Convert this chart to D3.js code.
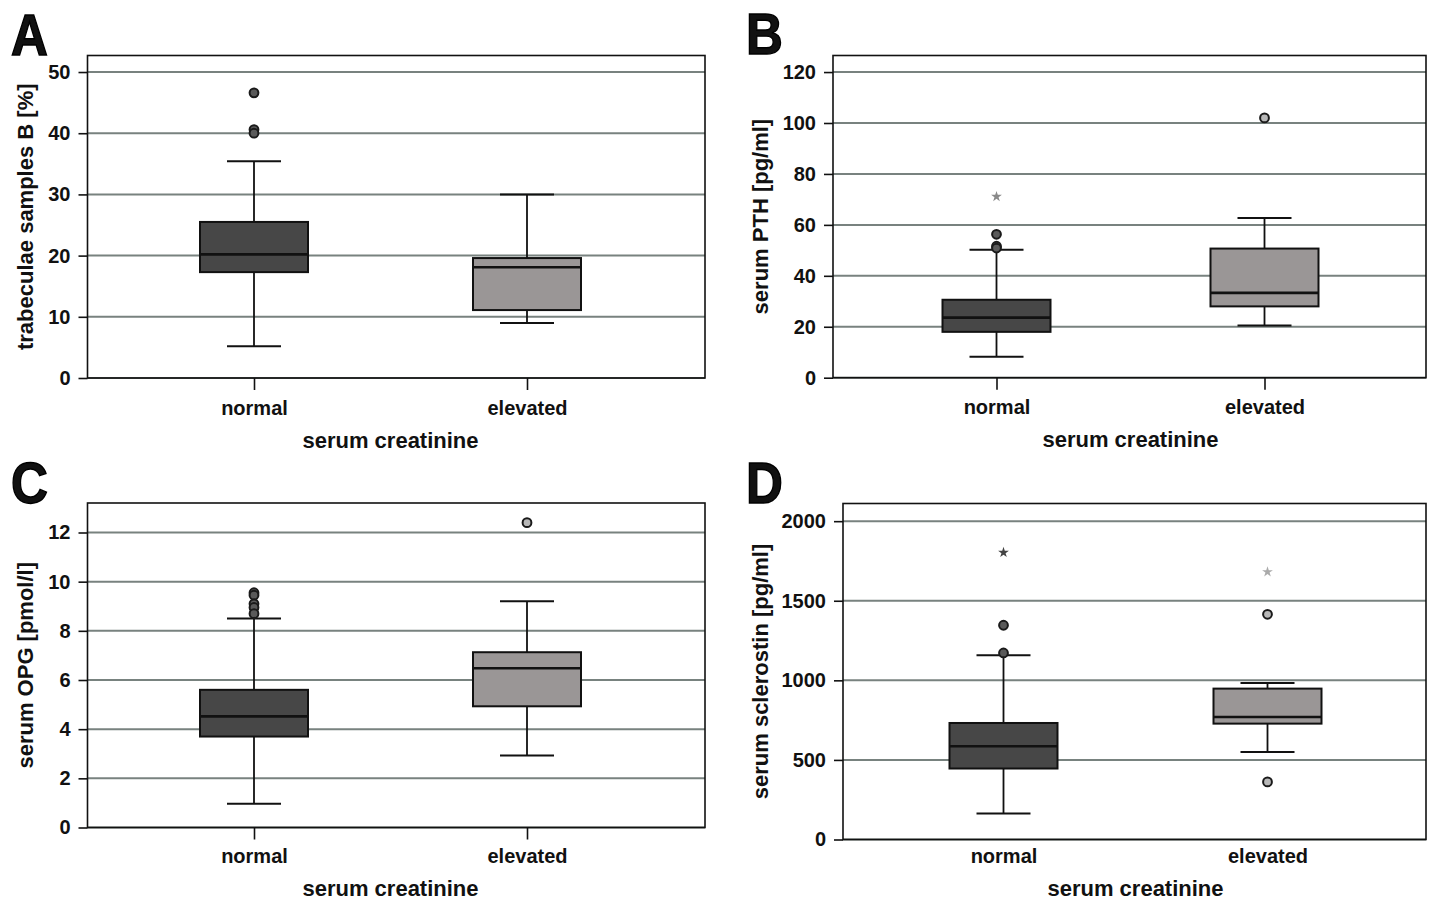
<!DOCTYPE html>
<html><head><meta charset="utf-8">
<script src="https://cdn.jsdelivr.net/npm/d3@7"></script>
<style>
body{margin:0;background:#fff}
svg{display:block}
text{font-family:"Liberation Sans",Arial,Helvetica,sans-serif;font-weight:bold;fill:#111}
</style>
</head><body>
<svg id="chart" width="1432" height="901"></svg>
<script>
const categories = ["normal", "elevated"];
const xTitle = "serum creatinine";

// Box statistics per category: [lower whisker, Q1, median, Q3, upper whisker]
const boxA = [[5.2, 17.3, 20.2, 25.5, 35.4], [9.0, 11.1, 18.1, 19.6, 30.0]];
const outliersA = [[46.6, 40.6, 40.0], []];
const extremesA = [[], []];
const ticksA = [0, 10, 20, 30, 40, 50];

const boxB = [[8.2, 18.0, 23.6, 30.6, 50.2], [20.5, 28.0, 33.3, 50.7, 62.7]];
const outliersB = [[56.3, 51.6, 50.9], [102]];
const extremesB = [[71.1], []];
const ticksB = [0, 20, 40, 60, 80, 100, 120];

const boxC = [[0.97, 3.7, 4.52, 5.6, 8.5], [2.93, 4.93, 6.48, 7.13, 9.2]];
const outliersC = [[9.55, 9.45, 9.1, 8.95, 8.7], [12.4]];
const extremesC = [[], []];
const ticksC = [0, 2, 4, 6, 8, 10, 12];

const boxD = [[163, 446, 586, 732, 1158], [550, 728, 770, 948, 984]];
const outliersD = [[1346, 1172], [1415, 362]];
const extremesD = [[1803], [1681]];
const ticksD = [0, 500, 1000, 1500, 2000];

const panels = [
  {letter: "A", yTitle: "trabeculae samples B [%]", box: boxA, out: outliersA, ext: extremesA, ticks: ticksA, yMax: 52.7,
   l: 87.5, r: 705, t: 55.5, b: 378, xN: 254, xE: 527, letterX: 11, letterY: 55, yTitleX: 33,
   xTick: 12, xPad: 10.5, xTitleY: 448, starCol: ["#777", "#aaa"]},
  {letter: "B", yTitle: "serum PTH [pg/ml]", box: boxB, out: outliersB, ext: extremesB, ticks: ticksB, yMax: 126.5,
   l: 833, r: 1426, t: 55.5, b: 377.7, xN: 996.5, xE: 1264.5, letterX: 746, letterY: 54, yTitleX: 768,
   xTick: 12, xPad: 10.5, xTitleY: 447, starCol: ["#8a8a8a", "#aaa"]},
  {letter: "C", yTitle: "serum OPG [pmol/l]", box: boxC, out: outliersC, ext: extremesC, ticks: ticksC, yMax: 13.2,
   l: 87.5, r: 705, t: 503, b: 827.5, xN: 254, xE: 527, letterX: 11, letterY: 503, yTitleX: 33,
   xTick: 12, xPad: 9.5, xTitleY: 896, starCol: ["#777", "#aaa"]},
  {letter: "D", yTitle: "serum sclerostin [pg/ml]", box: boxD, out: outliersD, ext: extremesD, ticks: ticksD, yMax: 2111,
   l: 843, r: 1426, t: 503.5, b: 839.5, xN: 1003.5, xE: 1267.5, letterX: 746, letterY: 503, yTitleX: 768,
   xTick: 0, xPad: 9.5, xTitleY: 896, starCol: ["#444", "#aaa"]}
];

const boxFill = ["#474747", "#9a9696"];
const circFill = ["#5a5a5a", "#b8b8b8"];
const svg = d3.select("#chart");

function drawPanel(p) {
  const g = svg.append("g");
  const y = d3.scaleLinear().domain([0, p.yMax]).range([p.b, p.t]);
  const x = d3.scalePoint().domain(categories).range([p.xN, p.xE]);
  const bw = 54, cw = 27;

  // gridlines
  g.append("g").selectAll("line").data(p.ticks).join("line")
    .attr("x1", p.l).attr("x2", p.r)
    .attr("y1", d => y(d)).attr("y2", d => y(d))
    .attr("stroke", "#78827f").attr("stroke-width", 2);

  // y axis
  const ya = g.append("g").attr("transform", `translate(${p.l},0)`)
    .call(d3.axisLeft(y).tickValues(p.ticks).tickSize(9).tickPadding(8).tickFormat(d3.format("d")));
  ya.select(".domain").remove();
  ya.selectAll("line").attr("stroke", "#111").attr("stroke-width", 1.6);
  ya.selectAll("text").attr("font-size", 20).attr("font-family", null).attr("fill", "#111");

  // x axis
  const xa = g.append("g").attr("transform", `translate(0,${p.b})`)
    .call(d3.axisBottom(x).tickSize(p.xTick).tickPadding(p.xPad));
  xa.select(".domain").remove();
  xa.selectAll("line").attr("stroke", "#111").attr("stroke-width", 1.6);
  xa.selectAll("text").attr("font-size", 20).attr("font-family", null).attr("fill", "#111");

  // boxes
  const data = categories.map((c, i) => ({c, i, s: p.box[i]}));
  const bg = g.append("g").selectAll("g").data(data).join("g");
  bg.append("line").attr("x1", d => x(d.c)).attr("x2", d => x(d.c))
    .attr("y1", d => y(d.s[0])).attr("y2", d => y(d.s[1]))
    .attr("stroke", "#111").attr("stroke-width", 1.8);
  bg.append("line").attr("x1", d => x(d.c)).attr("x2", d => x(d.c))
    .attr("y1", d => y(d.s[3])).attr("y2", d => y(d.s[4]))
    .attr("stroke", "#111").attr("stroke-width", 1.8);
  bg.append("line").attr("x1", d => x(d.c) - cw).attr("x2", d => x(d.c) + cw)
    .attr("y1", d => y(d.s[0])).attr("y2", d => y(d.s[0]))
    .attr("stroke", "#111").attr("stroke-width", 2);
  bg.append("line").attr("x1", d => x(d.c) - cw).attr("x2", d => x(d.c) + cw)
    .attr("y1", d => y(d.s[4])).attr("y2", d => y(d.s[4]))
    .attr("stroke", "#111").attr("stroke-width", 2);
  bg.append("rect").attr("x", d => x(d.c) - bw).attr("width", bw * 2)
    .attr("y", d => y(d.s[3])).attr("height", d => y(d.s[1]) - y(d.s[3]))
    .attr("fill", d => boxFill[d.i]).attr("stroke", "#111").attr("stroke-width", 2);
  bg.append("line").attr("x1", d => x(d.c) - bw).attr("x2", d => x(d.c) + bw)
    .attr("y1", d => y(d.s[2])).attr("y2", d => y(d.s[2]))
    .attr("stroke", "#111").attr("stroke-width", 2.6);

  // outliers
  const outs = [];
  categories.forEach((c, i) => p.out[i].forEach(v => outs.push({c, i, v})));
  g.append("g").selectAll("circle").data(outs).join("circle")
    .attr("cx", d => x(d.c)).attr("cy", d => y(d.v)).attr("r", 4.4)
    .attr("fill", d => circFill[d.i]).attr("stroke", "#1a1a1a").attr("stroke-width", 2);

  // extremes
  const exts = [];
  categories.forEach((c, i) => p.ext[i].forEach(v => exts.push({c, i, v})));
  g.append("g").selectAll("path").data(exts).join("path")
    .attr("d", d3.symbol(d3.symbolStar, 36))
    .attr("transform", d => `translate(${x(d.c)},${y(d.v)})`)
    .attr("fill", d => p.starCol[d.i]);

  // frame
  g.append("rect").attr("x", p.l).attr("y", p.t).attr("width", p.r - p.l).attr("height", p.b - p.t)
    .attr("fill", "none").attr("stroke", "#111").attr("stroke-width", 1.6);

  // titles
  g.append("text").attr("x", (p.xN + p.xE) / 2).attr("y", p.xTitleY)
    .attr("text-anchor", "middle").attr("font-size", 22).text(xTitle);
  g.append("text").attr("transform", `translate(${p.yTitleX},${(p.t + p.b) / 2}) rotate(-90)`)
    .attr("text-anchor", "middle").attr("font-size", 22).text(p.yTitle);
  g.append("text").attr("transform", `translate(${p.letterX},${p.letterY}) scale(0.88,1)`)
    .attr("font-size", 58).attr("fill", "#000").attr("stroke", "#000").attr("stroke-width", 1.5)
    .text(p.letter);
}

panels.forEach(drawPanel);
</script>
</body></html>
